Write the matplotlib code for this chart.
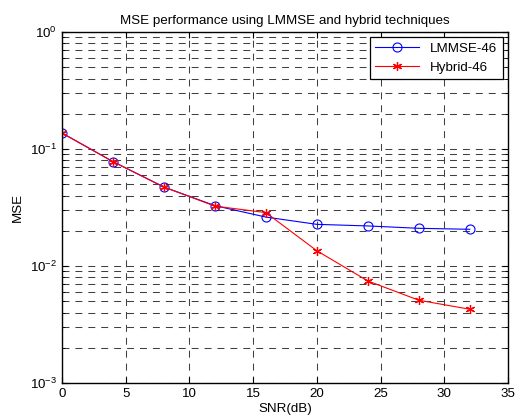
"""MSE vs SNR for LMMSE and hybrid channel estimation"""

import matplotlib
matplotlib.use("Agg")
import matplotlib.pyplot as plt
from matplotlib.ticker import LogLocator, NullFormatter

snr_db = [0, 4, 8, 12, 16, 20, 24, 28, 32]
mse_lmmse = [0.137, 0.078, 0.0473, 0.0328, 0.0262, 0.0227, 0.0220, 0.0210, 0.0206]
mse_hybrid = [0.137, 0.078, 0.0473, 0.0325, 0.0286, 0.0135, 0.00745, 0.0051, 0.00427]

plt.rcParams["font.family"] = ["Liberation Sans", "DejaVu Sans"]
plt.rcParams["font.size"] = 9.6
plt.rcParams["lines.scale_dashes"] = False

fig = plt.figure(figsize=(5.15, 4.19), dpi=100)
ax = fig.add_axes([0.1204, 0.0859, 0.866, 0.8377])

ax.semilogy(snr_db, mse_lmmse, "-o", color="blue", mfc="none", ms=6.5, mew=0.8,
            lw=0.8, label="LMMSE-46")
ax.semilogy(snr_db, mse_hybrid, "-", marker=(6, 2, 0), color="red", ms=6.5,
            mew=0.9, lw=0.8, label="Hybrid-46")

ax.set_xlim(0, 35)
ax.set_ylim(1e-3, 1)
ax.set_xticks(range(0, 36, 5))
ax.yaxis.set_minor_locator(LogLocator(base=10, subs=range(2, 10)))
ax.yaxis.set_minor_formatter(NullFormatter())

grid_style = dict(color="#404040", ls=(0, (5.0, 4.3)), lw=0.75)
ax.grid(True, which="major", axis="both", **grid_style)
ax.grid(True, which="minor", axis="y", **grid_style)

ax.tick_params(which="both", direction="in", top=True, right=True)
ax.tick_params(which="major", length=4)
ax.tick_params(which="minor", length=2)
for s in ax.spines.values():
    s.set_linewidth(1.0)

ax.set_title("MSE performance using LMMSE and hybrid techniques", fontsize=9.6)
ax.set_xlabel("SNR(dB)", labelpad=2)
ax.set_ylabel("MSE")

leg = ax.legend(loc="upper right", fancybox=False, framealpha=1, edgecolor="black",
                borderaxespad=0.4, handlelength=3.3, fontsize=9.6)
leg.get_frame().set_linewidth(0.9)

fig.savefig("out.png", dpi=100)
